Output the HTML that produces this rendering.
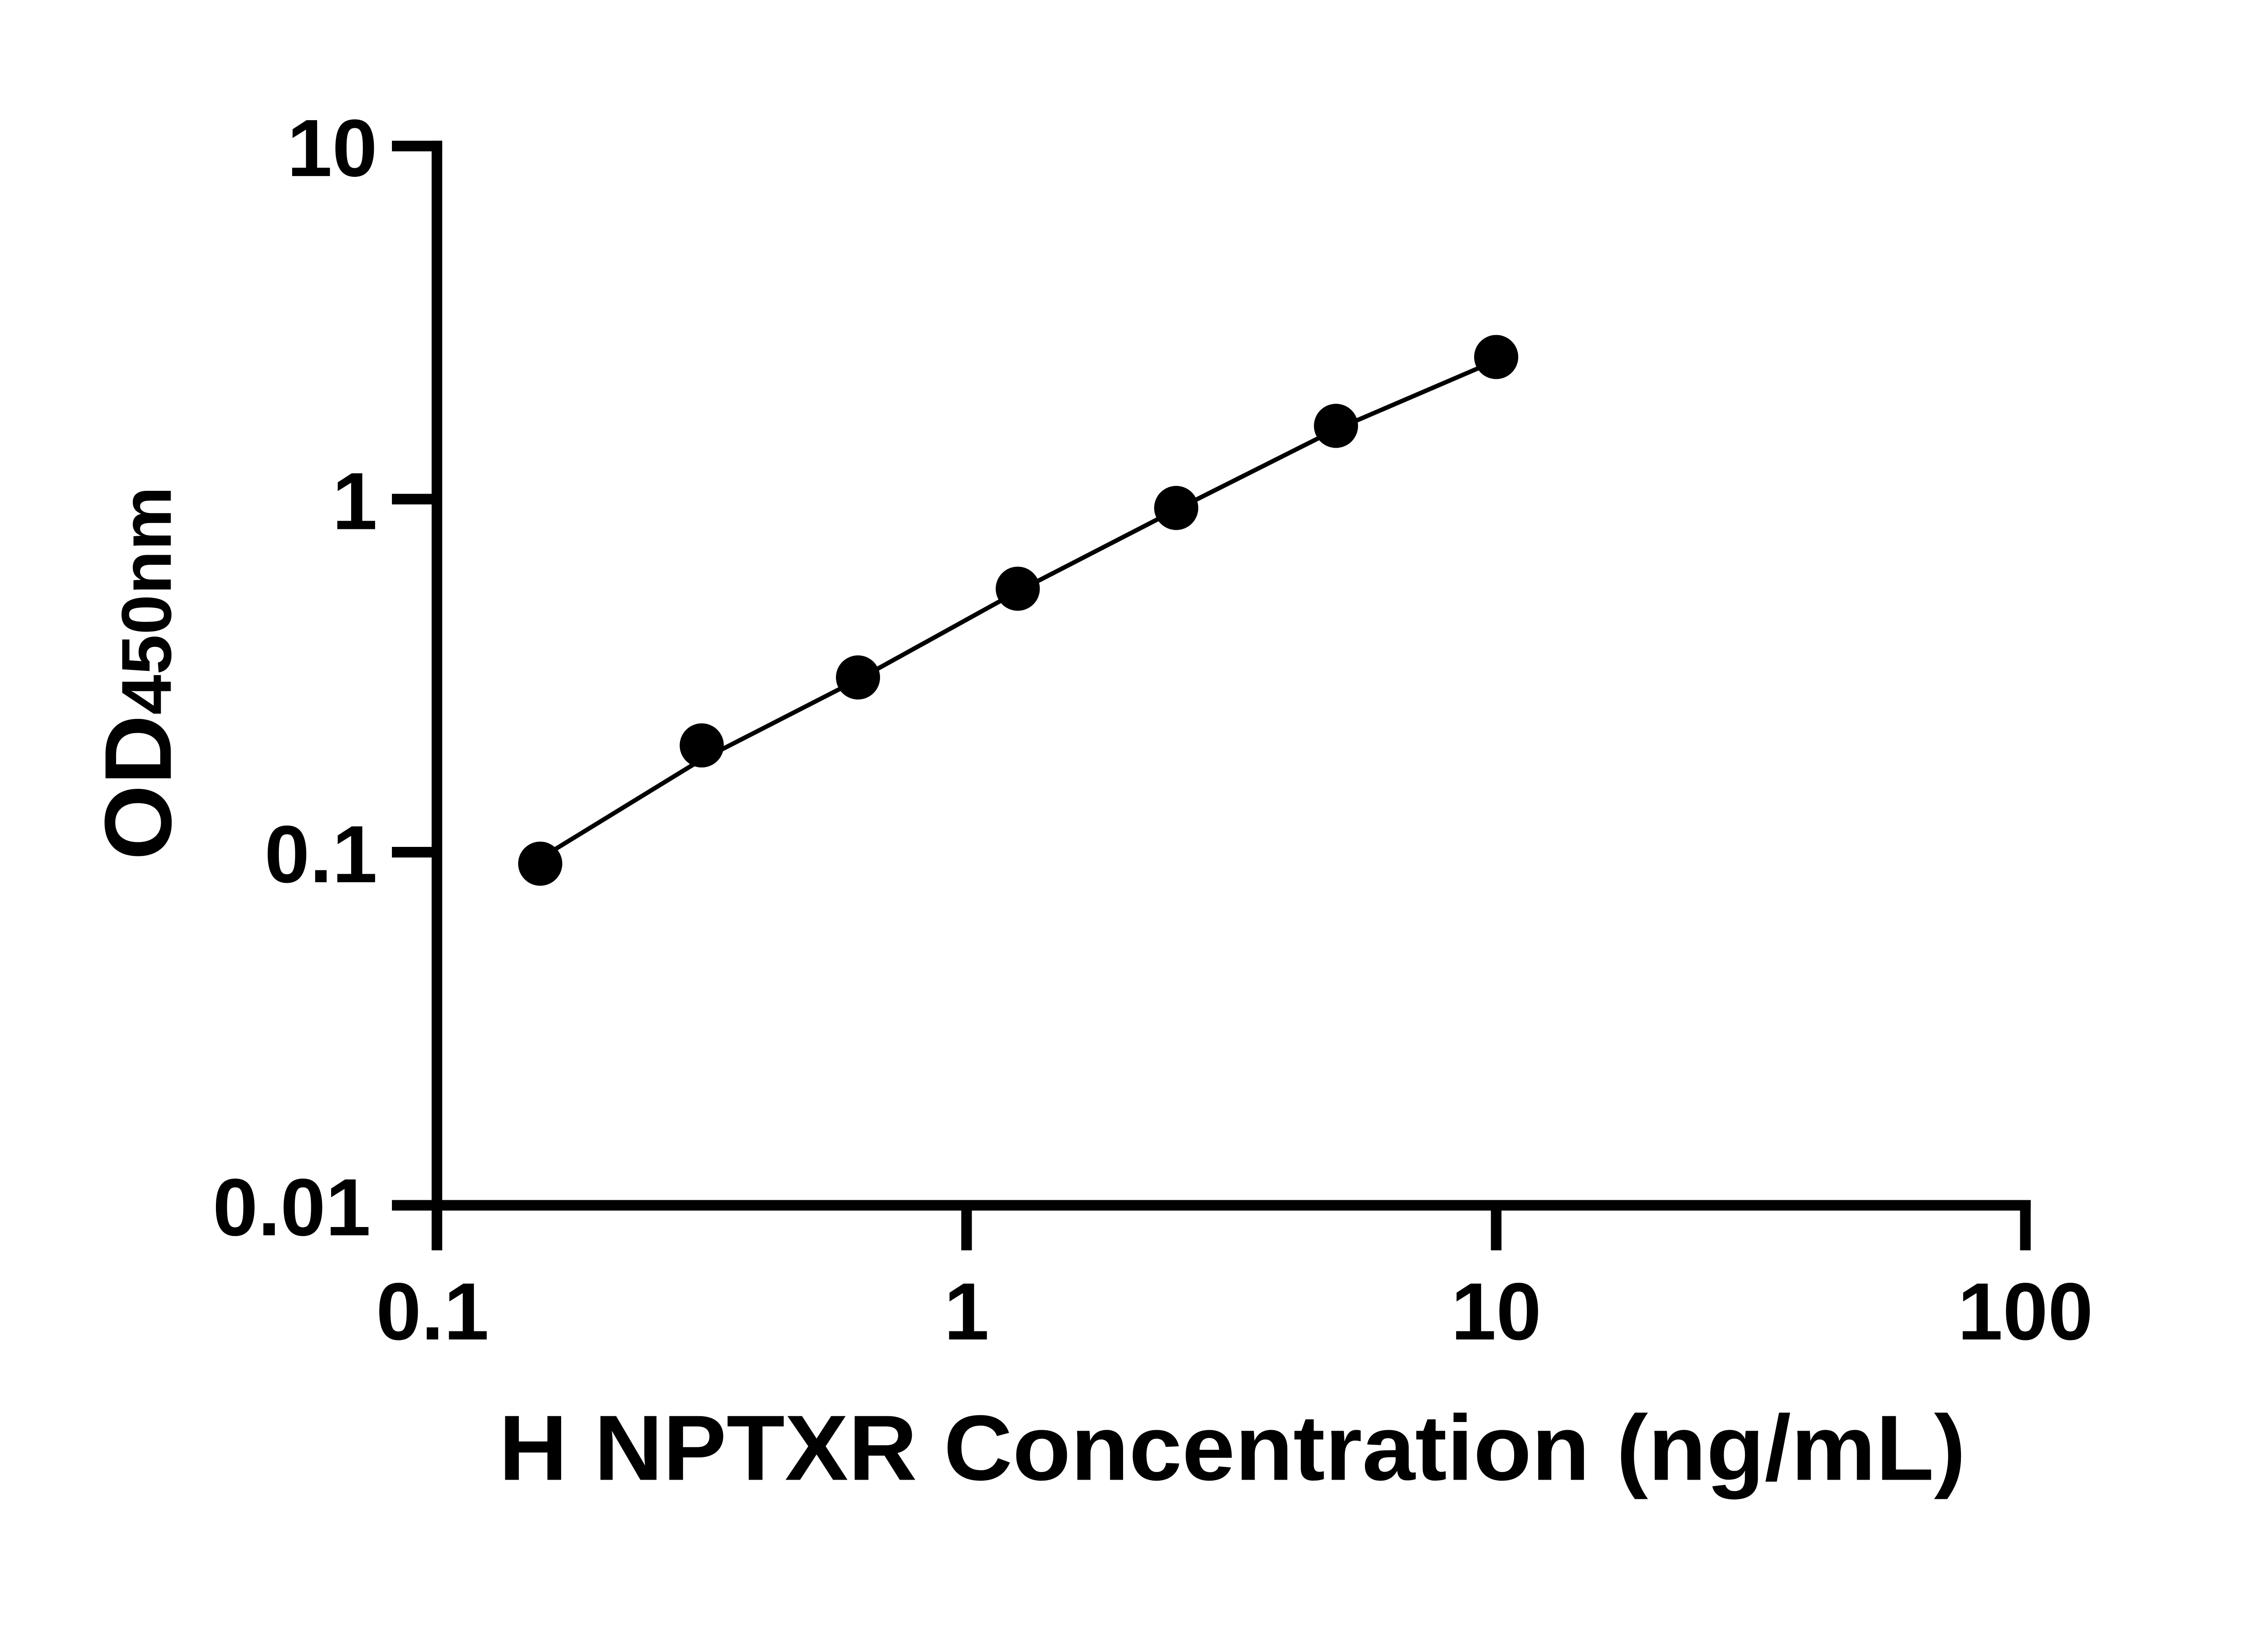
<!DOCTYPE html>
<html><head><meta charset="utf-8"><style>html,body{margin:0;padding:0;background:#fff}svg{display:block}</style></head>
<body>
<svg width="5142" height="3600" viewBox="0 0 5142 3600" xmlns="http://www.w3.org/2000/svg">
<rect width="5142" height="3600" fill="#fff"/>
<g transform="translate(0,-5) scale(0.973)">
<g stroke="#000" stroke-width="24" fill="none" stroke-linecap="butt">
<line x1="990" y1="324" x2="990" y2="2838"/>
<line x1="978" y1="2736" x2="4601" y2="2736"/>
<line x1="888" y1="336" x2="1002" y2="336"/>
<line x1="888" y1="1136" x2="990" y2="1136"/>
<line x1="888" y1="1936" x2="990" y2="1936"/>
<line x1="888" y1="2736" x2="990" y2="2736"/>
<line x1="2190" y1="2736" x2="2190" y2="2838"/>
<line x1="3390" y1="2736" x2="3390" y2="2838"/>
<line x1="4589" y1="2724" x2="4589" y2="2838"/>
</g>
<polyline fill="none" stroke="#000" stroke-width="10" points="1224,1950 1583,1730 1944,1545 2306,1345 2665,1160 3027,978 3390,822"/>
<g fill="#000">
<circle cx="1224" cy="1962" r="50"/>
<circle cx="1590" cy="1694" r="50"/>
<circle cx="1944" cy="1540" r="50"/>
<circle cx="2306" cy="1339" r="50"/>
<circle cx="2665" cy="1156" r="50"/>
<circle cx="3027" cy="970" r="50"/>
<circle cx="3390" cy="814" r="50"/>
</g>
<g font-family="'Liberation Sans', Arial, sans-serif" font-weight="bold" font-size="184" fill="#000">
<text x="855" y="404" text-anchor="end">10</text>
<text x="855" y="1204" text-anchor="end">1</text>
<text x="855" y="2004" text-anchor="end">0.1</text>
<text x="840" y="2804" text-anchor="end">0.01</text>
<text x="980" y="3040" text-anchor="middle">0.1</text>
<text x="2190" y="3040" text-anchor="middle">1</text>
<text x="3390" y="3040" text-anchor="middle">10</text>
<text x="4589" y="3040" text-anchor="middle">100</text>
</g>
<text x="1130" y="3358" font-family="'Liberation Sans', Arial, sans-serif" font-weight="bold" font-size="210" textLength="3324" lengthAdjust="spacingAndGlyphs">H NPTXR Concentration (ng/mL)</text>
<text transform="translate(387,1954) rotate(-90)" font-family="'Liberation Sans', Arial, sans-serif" font-weight="bold" textLength="847" lengthAdjust="spacingAndGlyphs"><tspan font-size="215">OD</tspan><tspan font-size="160">450nm</tspan></text>
</g>
</svg>
</body></html>
